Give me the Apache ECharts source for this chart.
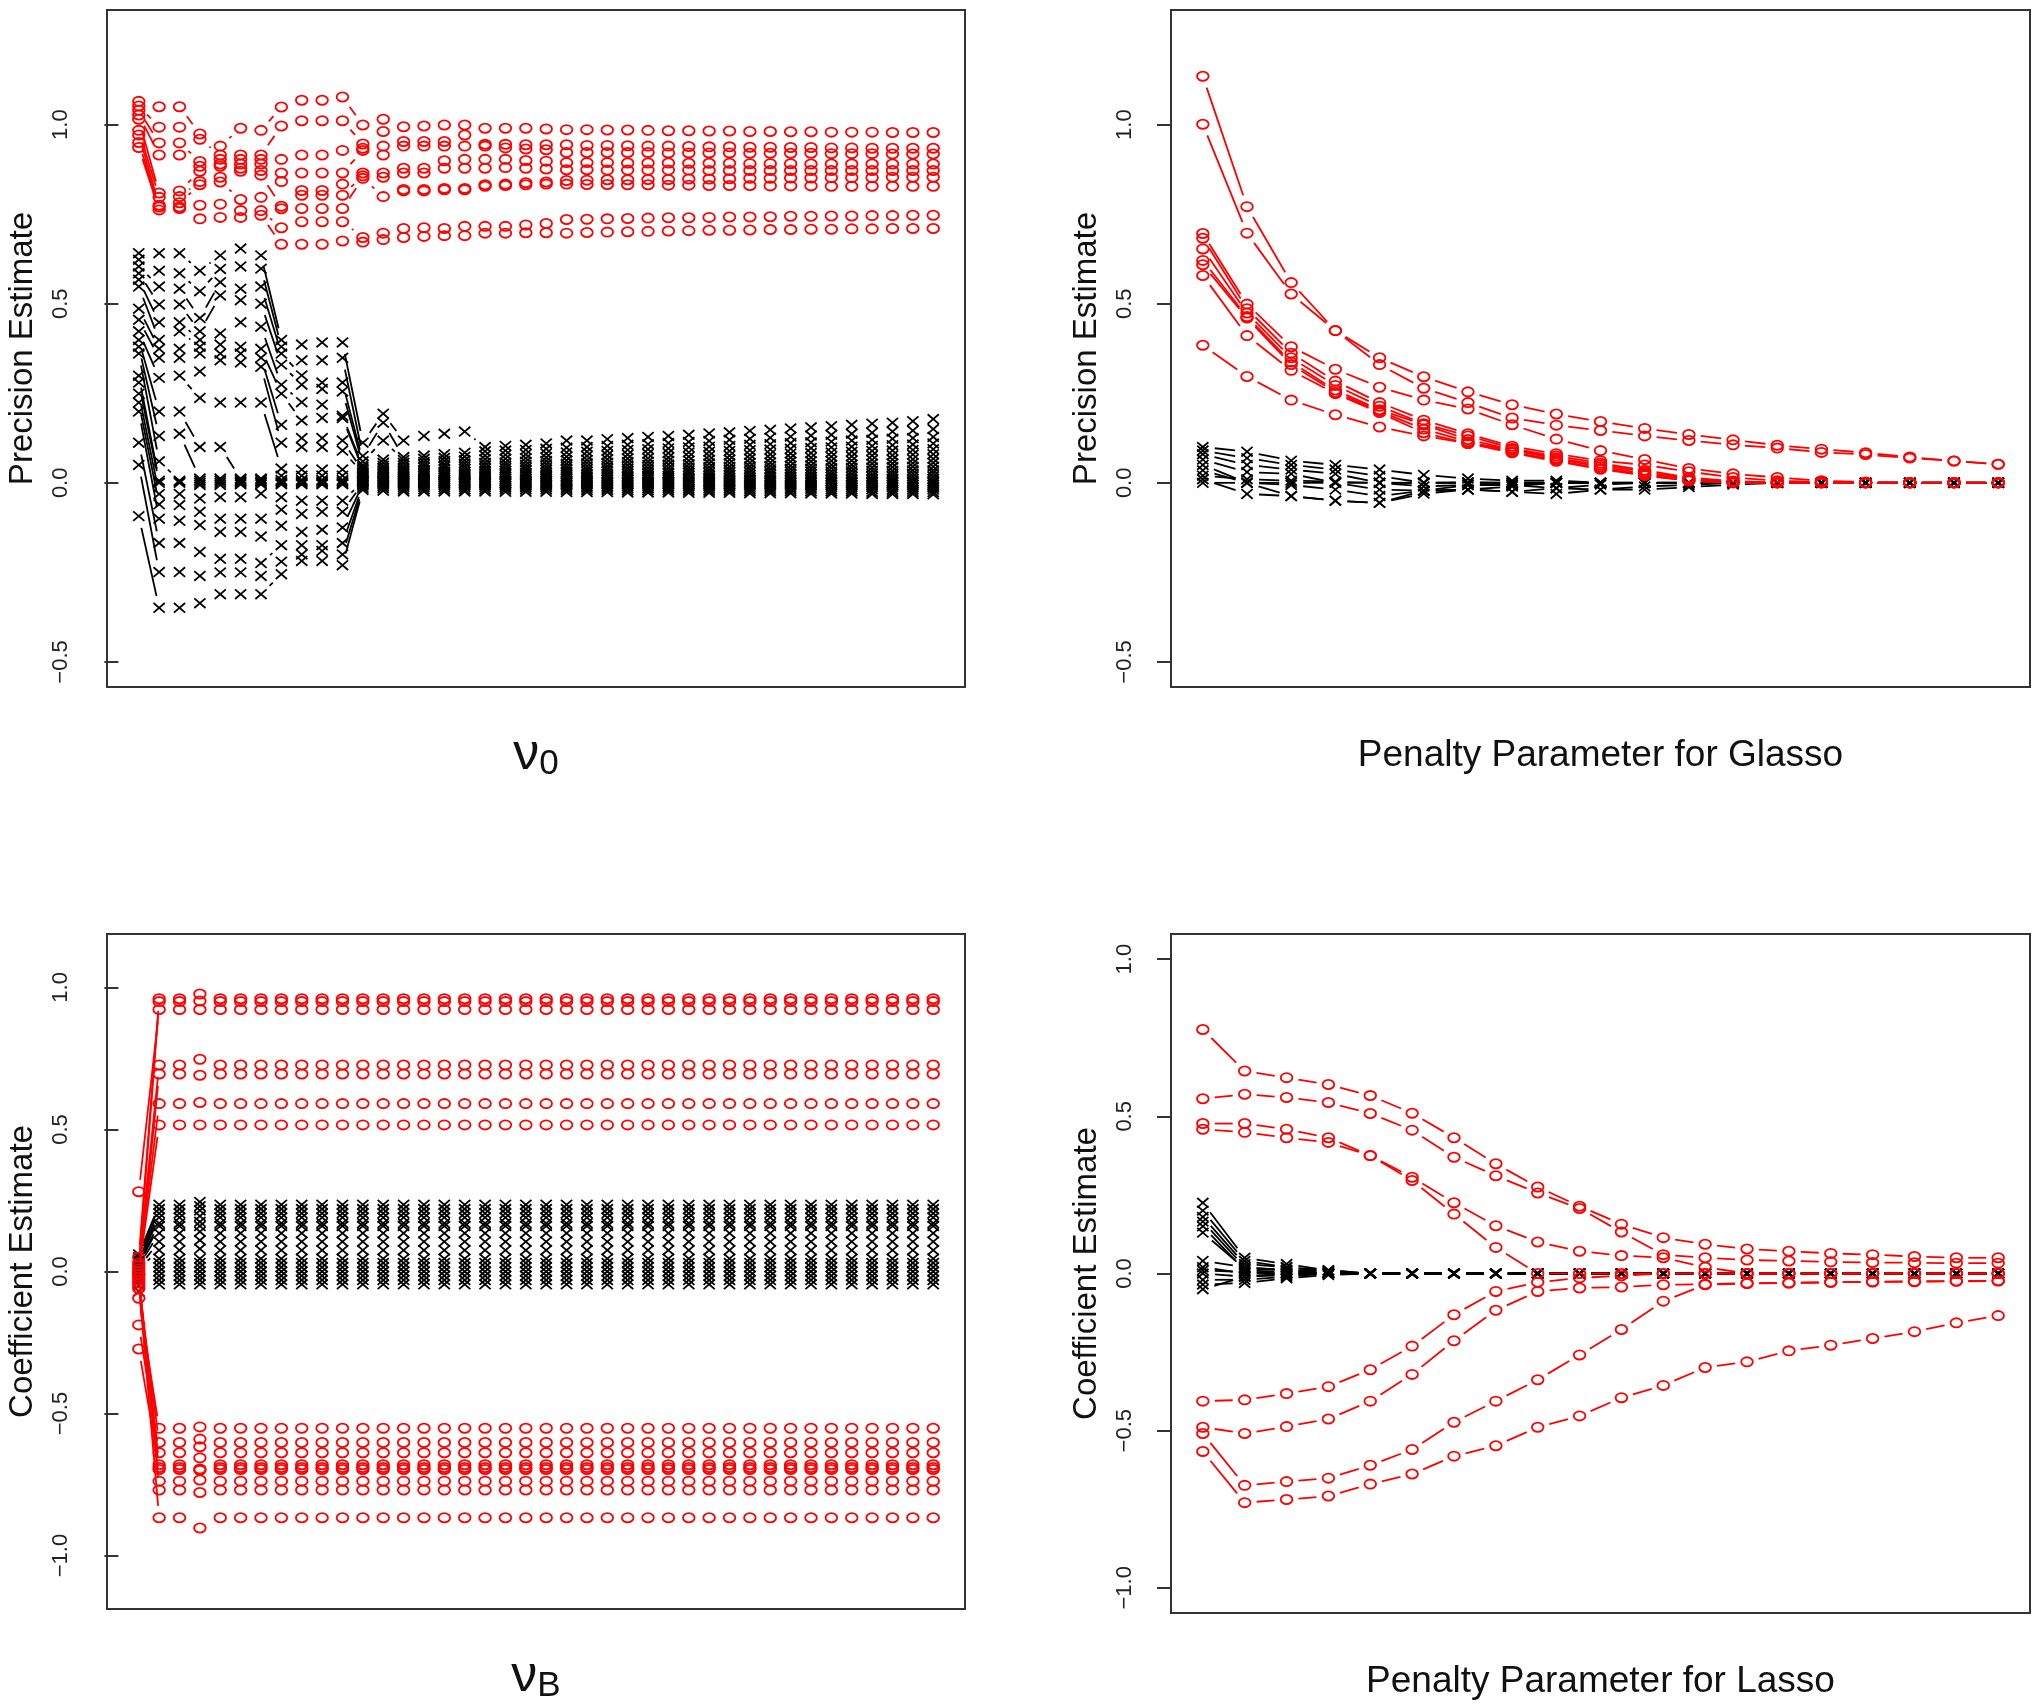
<!DOCTYPE html>
<html><head><meta charset="utf-8">
<script src="https://cdn.jsdelivr.net/npm/echarts@6/dist/echarts.min.js"></script>
<style>html,body{margin:0;padding:0;background:#fff}#c{width:2040px;height:1705px}</style>
</head><body><div id="c"></div>
<script>
// ---------- x positions ----------
const nuX = [1,2,3,4,5,6,7,8,9,10,11,12,13,14,15,16,17,18,19,20,21,22,23,24,25,26,27,28,29,30,31,32,33,34,35,36,37,38,39,40];
const glassoX = [1,2,3,4,5,6,7,8,9,10,11,12,13,14,15,16,17,18,19];
const lassoX = [1,2,3,4,5,6,7,8,9,10,11,12,13,14,15,16,17,18,19,20];
const yTicksTop = [-0.5, 0, 0.5, 1.0];
const yTicksBottom = [-1.0, -0.5, 0, 0.5, 1.0];

// ---------- Panel 1: precision estimates vs nu0 (values per column, sorted) ----------
const nu0RedCols = [
[1.065,1.052,1.040,1.027,1.015,0.984,0.971,0.950,0.936],
[1.050,0.993,0.949,0.915,0.809,0.797,0.775,0.770,0.762],
[1.050,0.993,0.949,0.915,0.815,0.799,0.782,0.770,0.766],
[0.974,0.959,0.897,0.884,0.870,0.841,0.832,0.775,0.737],
[0.940,0.915,0.903,0.890,0.884,0.853,0.840,0.778,0.741],
[0.990,0.915,0.903,0.890,0.878,0.870,0.791,0.760,0.741],
[0.984,0.915,0.903,0.890,0.872,0.859,0.797,0.760,0.747],
[1.049,0.996,0.903,0.865,0.841,0.772,0.765,0.712,0.666],
[1.068,1.011,0.915,0.865,0.816,0.803,0.766,0.729,0.666],
[1.068,1.011,0.915,0.865,0.816,0.803,0.766,0.729,0.666],
[1.077,1.011,0.928,0.865,0.834,0.803,0.766,0.729,0.675],
[0.999,0.946,0.934,0.928,0.865,0.857,0.850,0.685,0.672],
[1.015,0.981,0.940,0.915,0.865,0.853,0.799,0.697,0.679],
[0.994,0.953,0.940,0.878,0.865,0.819,0.815,0.710,0.685],
[0.996,0.953,0.940,0.878,0.865,0.819,0.815,0.712,0.688],
[0.999,0.953,0.940,0.899,0.878,0.822,0.818,0.710,0.690],
[0.999,0.971,0.940,0.903,0.878,0.822,0.818,0.716,0.690],
[0.990,0.945,0.940,0.903,0.878,0.832,0.828,0.716,0.697],
[0.990,0.945,0.935,0.903,0.880,0.834,0.830,0.716,0.697],
[0.990,0.944,0.932,0.900,0.878,0.838,0.832,0.720,0.698],
[0.988,0.944,0.930,0.898,0.876,0.840,0.834,0.724,0.698],
[0.986,0.944,0.922,0.894,0.874,0.844,0.834,0.735,0.697],
[0.986,0.942,0.922,0.894,0.874,0.845,0.833,0.736,0.699],
[0.985,0.942,0.922,0.894,0.873,0.846,0.833,0.737,0.700],
[0.985,0.941,0.922,0.893,0.873,0.846,0.832,0.738,0.701],
[0.984,0.940,0.922,0.893,0.873,0.847,0.832,0.739,0.702],
[0.983,0.940,0.921,0.893,0.873,0.847,0.831,0.740,0.703],
[0.983,0.939,0.921,0.892,0.873,0.848,0.831,0.740,0.704],
[0.982,0.938,0.921,0.892,0.872,0.848,0.830,0.741,0.705],
[0.982,0.938,0.921,0.892,0.872,0.849,0.830,0.742,0.705],
[0.981,0.937,0.920,0.891,0.872,0.850,0.830,0.742,0.706],
[0.981,0.937,0.920,0.891,0.872,0.850,0.829,0.743,0.707],
[0.980,0.936,0.920,0.891,0.872,0.851,0.829,0.744,0.707],
[0.980,0.936,0.920,0.890,0.872,0.851,0.829,0.744,0.708],
[0.979,0.935,0.919,0.890,0.872,0.852,0.828,0.745,0.708],
[0.979,0.935,0.919,0.890,0.872,0.852,0.828,0.745,0.709],
[0.979,0.934,0.919,0.890,0.872,0.852,0.828,0.746,0.709],
[0.978,0.934,0.918,0.890,0.872,0.853,0.828,0.746,0.710],
[0.978,0.934,0.918,0.890,0.872,0.853,0.828,0.747,0.710],
[0.978,0.934,0.918,0.890,0.872,0.853,0.828,0.747,0.710]
];
const nu0BlackCols = [
[0.641,0.623,0.604,0.585,0.567,0.548,0.486,0.455,0.423,0.399,0.380,0.361,0.299,0.280,0.249,0.224,0.199,0.112,0.050,-0.093],
[0.641,0.592,0.548,0.498,0.448,0.399,0.374,0.349,0.293,0.199,0.131,0.060,0.006,0.000,-0.031,-0.060,-0.100,-0.168,-0.249,-0.349],
[0.641,0.585,0.542,0.498,0.448,0.423,0.374,0.349,0.299,0.199,0.137,0.006,0.003,0.000,-0.031,-0.062,-0.106,-0.168,-0.249,-0.349],
[0.592,0.535,0.460,0.423,0.399,0.380,0.361,0.311,0.237,0.100,0.012,0.006,0.000,-0.006,-0.044,-0.081,-0.118,-0.193,-0.260,-0.336],
[0.635,0.597,0.560,0.523,0.417,0.386,0.361,0.342,0.224,0.100,0.012,0.006,0.000,-0.006,-0.040,-0.100,-0.137,-0.212,-0.250,-0.311],
[0.654,0.604,0.542,0.510,0.448,0.380,0.361,0.336,0.224,0.012,0.008,0.004,0.000,-0.004,-0.040,-0.100,-0.137,-0.212,-0.250,-0.311],
[0.635,0.598,0.548,0.500,0.436,0.374,0.349,0.324,0.224,0.012,0.008,0.004,0.000,-0.004,-0.030,-0.100,-0.150,-0.224,-0.260,-0.311],
[0.399,0.380,0.361,0.330,0.274,0.249,0.162,0.112,0.040,0.020,0.008,0.004,0.000,-0.004,-0.040,-0.075,-0.120,-0.174,-0.220,-0.255],
[0.386,0.342,0.300,0.274,0.225,0.174,0.125,0.100,0.037,0.020,0.008,0.004,0.000,-0.004,-0.050,-0.087,-0.137,-0.174,-0.200,-0.218],
[0.392,0.342,0.280,0.262,0.218,0.181,0.125,0.100,0.037,0.020,0.008,0.004,0.000,-0.004,-0.050,-0.081,-0.131,-0.174,-0.190,-0.218],
[0.392,0.349,0.280,0.255,0.187,0.181,0.118,0.090,0.037,0.020,0.008,0.004,0.000,-0.004,-0.050,-0.081,-0.125,-0.168,-0.200,-0.230],
[0.112,0.075,0.060,0.050,0.044,0.038,0.032,0.027,0.022,0.018,0.014,0.010,0.007,0.004,0.002,0.000,-0.004,-0.008,-0.014,-0.020],
[0.193,0.168,0.118,0.065,0.056,0.048,0.041,0.035,0.029,0.024,0.019,0.014,0.010,0.006,0.003,0.000,-0.004,-0.009,-0.015,-0.022],
[0.118,0.072,0.064,0.056,0.048,0.041,0.035,0.029,0.024,0.019,0.014,0.010,0.006,0.003,0.000,-0.003,-0.007,-0.012,-0.018,-0.024],
[0.131,0.076,0.067,0.058,0.050,0.043,0.036,0.030,0.025,0.020,0.015,0.010,0.006,0.003,0.000,-0.003,-0.007,-0.012,-0.018,-0.024],
[0.137,0.080,0.070,0.061,0.052,0.045,0.038,0.031,0.026,0.020,0.015,0.010,0.006,0.003,0.000,-0.003,-0.007,-0.012,-0.018,-0.024],
[0.143,0.084,0.073,0.063,0.054,0.046,0.039,0.032,0.026,0.021,0.016,0.011,0.006,0.003,0.000,-0.003,-0.007,-0.012,-0.018,-0.024],
[0.100,0.088,0.076,0.066,0.056,0.048,0.040,0.033,0.027,0.021,0.016,0.011,0.006,0.003,0.000,-0.003,-0.007,-0.012,-0.018,-0.024],
[0.103,0.090,0.078,0.067,0.057,0.049,0.041,0.034,0.028,0.022,0.016,0.011,0.006,0.003,0.000,-0.003,-0.008,-0.013,-0.019,-0.025],
[0.106,0.092,0.080,0.069,0.059,0.050,0.042,0.035,0.028,0.022,0.017,0.012,0.007,0.003,0.000,-0.003,-0.008,-0.013,-0.019,-0.025],
[0.110,0.095,0.082,0.071,0.061,0.052,0.043,0.036,0.029,0.023,0.017,0.012,0.007,0.003,0.000,-0.004,-0.008,-0.013,-0.019,-0.025],
[0.118,0.098,0.085,0.073,0.063,0.053,0.045,0.037,0.030,0.024,0.018,0.012,0.007,0.003,0.000,-0.004,-0.008,-0.014,-0.020,-0.026],
[0.118,0.100,0.087,0.075,0.064,0.055,0.046,0.038,0.031,0.024,0.018,0.013,0.007,0.003,0.000,-0.004,-0.009,-0.014,-0.020,-0.026],
[0.122,0.103,0.089,0.077,0.066,0.056,0.047,0.039,0.032,0.025,0.019,0.013,0.008,0.003,0.000,-0.004,-0.009,-0.014,-0.020,-0.026],
[0.125,0.106,0.092,0.079,0.068,0.058,0.049,0.040,0.033,0.026,0.019,0.013,0.008,0.003,0.000,-0.004,-0.009,-0.015,-0.021,-0.027],
[0.128,0.108,0.094,0.081,0.069,0.059,0.050,0.041,0.033,0.026,0.020,0.014,0.008,0.003,0.000,-0.004,-0.009,-0.015,-0.021,-0.027],
[0.131,0.111,0.096,0.083,0.071,0.061,0.051,0.042,0.034,0.027,0.020,0.014,0.008,0.003,0.000,-0.004,-0.010,-0.015,-0.021,-0.027],
[0.134,0.114,0.099,0.085,0.073,0.062,0.052,0.043,0.035,0.028,0.021,0.014,0.008,0.004,0.000,-0.005,-0.010,-0.016,-0.022,-0.028],
[0.138,0.117,0.101,0.087,0.075,0.064,0.054,0.044,0.036,0.028,0.021,0.015,0.009,0.004,0.000,-0.005,-0.010,-0.016,-0.022,-0.028],
[0.141,0.120,0.103,0.089,0.076,0.065,0.055,0.045,0.037,0.029,0.022,0.015,0.009,0.004,0.000,-0.005,-0.010,-0.016,-0.022,-0.028],
[0.145,0.123,0.106,0.091,0.078,0.067,0.056,0.046,0.038,0.030,0.022,0.015,0.009,0.004,0.000,-0.005,-0.011,-0.017,-0.023,-0.029],
[0.148,0.126,0.108,0.093,0.080,0.068,0.057,0.047,0.038,0.030,0.023,0.016,0.009,0.004,0.000,-0.005,-0.011,-0.017,-0.023,-0.029],
[0.152,0.129,0.111,0.095,0.082,0.070,0.059,0.048,0.039,0.031,0.023,0.016,0.010,0.004,0.000,-0.005,-0.011,-0.017,-0.023,-0.029],
[0.155,0.132,0.113,0.097,0.083,0.071,0.060,0.049,0.040,0.032,0.024,0.016,0.010,0.004,0.000,-0.005,-0.011,-0.017,-0.024,-0.030],
[0.158,0.134,0.115,0.099,0.085,0.073,0.061,0.050,0.041,0.032,0.024,0.017,0.010,0.004,0.000,-0.006,-0.012,-0.018,-0.024,-0.030],
[0.162,0.137,0.118,0.101,0.087,0.074,0.062,0.051,0.042,0.033,0.025,0.017,0.010,0.004,0.000,-0.006,-0.012,-0.018,-0.024,-0.030],
[0.165,0.140,0.120,0.103,0.089,0.076,0.064,0.053,0.043,0.034,0.025,0.017,0.010,0.004,0.000,-0.006,-0.012,-0.018,-0.025,-0.031],
[0.168,0.143,0.123,0.105,0.090,0.077,0.065,0.054,0.044,0.034,0.026,0.018,0.011,0.005,0.000,-0.006,-0.012,-0.019,-0.025,-0.031],
[0.172,0.146,0.125,0.107,0.092,0.079,0.066,0.055,0.045,0.035,0.026,0.018,0.011,0.005,0.000,-0.006,-0.013,-0.019,-0.025,-0.031],
[0.178,0.150,0.128,0.110,0.094,0.080,0.067,0.056,0.045,0.035,0.027,0.018,0.011,0.005,0.000,-0.006,-0.013,-0.019,-0.026,-0.032]
];

// ---------- Panel 2: Glasso precision path ----------
const glRed1 = [1.135,0.771,0.559,0.425,0.349,0.296,0.254,0.218,0.192,0.171,0.152,0.135,0.120,0.105,0.094,0.084,0.072,0.061,0.052];
const glRed2 = [1.001,0.697,0.527,0.425,0.330,0.264,0.224,0.181,0.161,0.146,0.131,0.118,0.106,0.097,0.085,0.079,0.069,0.061,0.052];
const glRed3 = [0.696,0.499,0.380,0.317,0.267,0.231,0.206,0.162,0.122,0.090,0.065,0.040,0.025,0.015,0.006,0.002,0,0,0];
const glRed4 = [0.683,0.486,0.362,0.284,0.224,0.175,0.137,0.102,0.081,0.062,0.050,0.031,0.015,0.006,0.002,0,0,0,0];
const glRed5 = [0.653,0.474,0.349,0.272,0.214,0.165,0.131,0.096,0.069,0.050,0.031,0.012,0.002,0,0,0,0,0,0];
const glRed6 = [0.621,0.464,0.337,0.259,0.204,0.162,0.121,0.092,0.066,0.045,0.026,0.009,0.002,0,0,0,0,0,0];
const glRed7 = [0.609,0.460,0.330,0.253,0.200,0.150,0.115,0.087,0.062,0.040,0.022,0.006,0,0,0,0,0,0,0];
const glRed8 = [0.579,0.411,0.314,0.249,0.196,0.140,0.110,0.084,0.060,0.038,0.020,0.006,0,0,0,0,0,0,0];
const glRed9 = [0.384,0.297,0.231,0.190,0.156,0.131,0.110,0.095,0.075,0.055,0.035,0.015,0.005,0,0,0,0,0,0];
const glBlk1 = [0.100,0.087,0.062,0.050,0.037,0.022,0.012,0.006,0.006,0,0,0,0,0,0,0,0,0,0];
const glBlk2 = [0.090,0.069,0.050,0.037,0.019,0.000,0.002,0,0,0,0,0,0,0,0,0,0,0,0];
const glBlk3 = [0.080,0.050,0.037,0.025,0.000,-0.010,-0.006,-0.006,0,0,0,0,0,0,0,0,0,0,0];
const glBlk4 = [0.065,0.030,0.025,0.000,-0.019,-0.022,-0.019,-0.025,-0.015,-0.019,-0.019,-0.012,-0.005,0,0,0,0,0,0];
const glBlk5 = [0.050,0.000,-0.006,-0.019,-0.037,-0.022,-0.019,-0.025,-0.031,-0.019,-0.010,-0.006,0,0,0,0,0,0,0];
const glBlk6 = [0.035,0.000,-0.037,-0.050,-0.056,-0.022,-0.006,-0.006,-0.015,-0.005,0,0,0,0,0,0,0,0,0];
const glBlk7 = [0.020,0.010,0.006,0.003,0,0,0,0,0,0,0,0,0,0,0,0,0,0,0];
const glBlk8 = [0.010,-0.031,-0.037,-0.050,-0.056,-0.030,-0.019,-0.010,0,0,0,0,0,0,0,0,0,0,0];
const glBlk9 = [0.000,0,0,0,0,0,0,0,0,0,0,0,0,0,0,0,0,0,0];

// ---------- Panel 3: coefficient estimates vs nuB ----------
const vbRed1 = [0.05,0.96,0.96,0.977, 0.96,0.96,0.96,0.96,0.96,0.96, 0.96,0.96,0.96,0.96,0.96,0.96, 0.96,0.96,0.96,0.96,0.96,0.96, 0.96,0.96,0.96,0.96,0.96,0.96, 0.96,0.96,0.96,0.96,0.96,0.96, 0.96,0.96,0.96,0.96,0.96,0.96];
const vbRed2 = [0.02,0.95,0.95,0.952, 0.95,0.95,0.95,0.95,0.95,0.95, 0.95,0.95,0.95,0.95,0.95,0.95, 0.95,0.95,0.95,0.95,0.95,0.95, 0.95,0.95,0.95,0.95,0.95,0.95, 0.95,0.95,0.95,0.95,0.95,0.95, 0.95,0.95,0.95,0.95,0.95,0.95];
const vbRed3 = [0.281,0.922,0.922,0.922, 0.922,0.922,0.922,0.922,0.922,0.922, 0.922,0.922,0.922,0.922,0.922,0.922, 0.922,0.922,0.922,0.922,0.922,0.922, 0.922,0.922,0.922,0.922,0.922,0.922, 0.922,0.922,0.922,0.922,0.922,0.922, 0.922,0.922,0.922,0.922,0.922,0.922];
const vbRed4 = [0.03,0.727,0.727,0.747, 0.727,0.727,0.727,0.727,0.727,0.727, 0.727,0.727,0.727,0.727,0.727,0.727, 0.727,0.727,0.727,0.727,0.727,0.727, 0.727,0.727,0.727,0.727,0.727,0.727, 0.727,0.727,0.727,0.727,0.727,0.727, 0.727,0.727,0.727,0.727,0.727,0.727];
const vbRed5 = [-0.01,0.695,0.695,0.691, 0.695,0.695,0.695,0.695,0.695,0.695, 0.695,0.695,0.695,0.695,0.695,0.695, 0.695,0.695,0.695,0.695,0.695,0.695, 0.695,0.695,0.695,0.695,0.695,0.695, 0.695,0.695,0.695,0.695,0.695,0.695, 0.695,0.695,0.695,0.695,0.695,0.695];
const vbRed6 = [0.01,0.591,0.591,0.595, 0.591,0.591,0.591,0.591,0.591,0.591, 0.591,0.591,0.591,0.591,0.591,0.591, 0.591,0.591,0.591,0.591,0.591,0.591, 0.591,0.591,0.591,0.591,0.591,0.591, 0.591,0.591,0.591,0.591,0.591,0.591, 0.591,0.591,0.591,0.591,0.591,0.591];
const vbRed7 = [0.0,0.516,0.516,0.516, 0.516,0.516,0.516,0.516,0.516,0.516, 0.516,0.516,0.516,0.516,0.516,0.516, 0.516,0.516,0.516,0.516,0.516,0.516, 0.516,0.516,0.516,0.516,0.516,0.516, 0.516,0.516,0.516,0.516,0.516,0.516, 0.516,0.516,0.516,0.516,0.516,0.516];
const vbRed8 = [-0.094,-0.552,-0.552,-0.547, -0.552,-0.552,-0.552,-0.552,-0.552,-0.552, -0.552,-0.552,-0.552,-0.552,-0.552,-0.552, -0.552,-0.552,-0.552,-0.552,-0.552,-0.552, -0.552,-0.552,-0.552,-0.552,-0.552,-0.552, -0.552,-0.552,-0.552,-0.552,-0.552,-0.552, -0.552,-0.552,-0.552,-0.552,-0.552,-0.552];
const vbRed9 = [-0.05,-0.602,-0.602,-0.590, -0.602,-0.602,-0.602,-0.602,-0.602,-0.602, -0.602,-0.602,-0.602,-0.602,-0.602,-0.602, -0.602,-0.602,-0.602,-0.602,-0.602,-0.602, -0.602,-0.602,-0.602,-0.602,-0.602,-0.602, -0.602,-0.602,-0.602,-0.602,-0.602,-0.602, -0.602,-0.602,-0.602,-0.602,-0.602,-0.602];
const vbRed10 = [-0.188,-0.638,-0.638,-0.617, -0.638,-0.638,-0.638,-0.638,-0.638,-0.638, -0.638,-0.638,-0.638,-0.638,-0.638,-0.638, -0.638,-0.638,-0.638,-0.638,-0.638,-0.638, -0.638,-0.638,-0.638,-0.638,-0.638,-0.638, -0.638,-0.638,-0.638,-0.638,-0.638,-0.638, -0.638,-0.638,-0.638,-0.638,-0.638,-0.638];
const vbRed11 = [-0.02,-0.68,-0.68,-0.656, -0.68,-0.68,-0.68,-0.68,-0.68,-0.68, -0.68,-0.68,-0.68,-0.68,-0.68,-0.68, -0.68,-0.68,-0.68,-0.68,-0.68,-0.68, -0.68,-0.68,-0.68,-0.68,-0.68,-0.68, -0.68,-0.68,-0.68,-0.68,-0.68,-0.68, -0.68,-0.68,-0.68,-0.68,-0.68,-0.68];
const vbRed12 = [-0.273,-0.69,-0.69,-0.695, -0.69,-0.69,-0.69,-0.69,-0.69,-0.69, -0.69,-0.69,-0.69,-0.69,-0.69,-0.69, -0.69,-0.69,-0.69,-0.69,-0.69,-0.69, -0.69,-0.69,-0.69,-0.69,-0.69,-0.69, -0.69,-0.69,-0.69,-0.69,-0.69,-0.69, -0.69,-0.69,-0.69,-0.69,-0.69,-0.69];
const vbRed13 = [-0.03,-0.697,-0.697,-0.700, -0.697,-0.697,-0.697,-0.697,-0.697,-0.697, -0.697,-0.697,-0.697,-0.697,-0.697,-0.697, -0.697,-0.697,-0.697,-0.697,-0.697,-0.697, -0.697,-0.697,-0.697,-0.697,-0.697,-0.697, -0.697,-0.697,-0.697,-0.697,-0.697,-0.697, -0.697,-0.697,-0.697,-0.697,-0.697,-0.697];
const vbRed14 = [-0.06,-0.738,-0.738,-0.734, -0.738,-0.738,-0.738,-0.738,-0.738,-0.738, -0.738,-0.738,-0.738,-0.738,-0.738,-0.738, -0.738,-0.738,-0.738,-0.738,-0.738,-0.738, -0.738,-0.738,-0.738,-0.738,-0.738,-0.738, -0.738,-0.738,-0.738,-0.738,-0.738,-0.738, -0.738,-0.738,-0.738,-0.738,-0.738,-0.738];
const vbRed15 = [-0.01,-0.769,-0.769,-0.778, -0.769,-0.769,-0.769,-0.769,-0.769,-0.769, -0.769,-0.769,-0.769,-0.769,-0.769,-0.769, -0.769,-0.769,-0.769,-0.769,-0.769,-0.769, -0.769,-0.769,-0.769,-0.769,-0.769,-0.769, -0.769,-0.769,-0.769,-0.769,-0.769,-0.769, -0.769,-0.769,-0.769,-0.769,-0.769,-0.769];
const vbRed16 = [-0.04,-0.867,-0.867,-0.903, -0.867,-0.867,-0.867,-0.867,-0.867,-0.867, -0.867,-0.867,-0.867,-0.867,-0.867,-0.867, -0.867,-0.867,-0.867,-0.867,-0.867,-0.867, -0.867,-0.867,-0.867,-0.867,-0.867,-0.867, -0.867,-0.867,-0.867,-0.867,-0.867,-0.867, -0.867,-0.867,-0.867,-0.867,-0.867,-0.867];
const vbBlk1 = [0.06,0.235,0.235,0.245, 0.235,0.235,0.235,0.235,0.235,0.235, 0.235,0.235,0.235,0.235,0.235,0.235, 0.235,0.235,0.235,0.235,0.235,0.235, 0.235,0.235,0.235,0.235,0.235,0.235, 0.235,0.235,0.235,0.235,0.235,0.235, 0.235,0.235,0.235,0.235,0.235,0.235];
const vbBlk2 = [0.05,0.22,0.22,0.23, 0.22,0.22,0.22,0.22,0.22,0.22, 0.22,0.22,0.22,0.22,0.22,0.22, 0.22,0.22,0.22,0.22,0.22,0.22, 0.22,0.22,0.22,0.22,0.22,0.22, 0.22,0.22,0.22,0.22,0.22,0.22, 0.22,0.22,0.22,0.22,0.22,0.22];
const vbBlk3 = [0.04,0.205,0.205,0.215, 0.205,0.205,0.205,0.205,0.205,0.205, 0.205,0.205,0.205,0.205,0.205,0.205, 0.205,0.205,0.205,0.205,0.205,0.205, 0.205,0.205,0.205,0.205,0.205,0.205, 0.205,0.205,0.205,0.205,0.205,0.205, 0.205,0.205,0.205,0.205,0.205,0.205];
const vbBlk4 = [0.035,0.19,0.19,0.195, 0.19,0.19,0.19,0.19,0.19,0.19, 0.19,0.19,0.19,0.19,0.19,0.19, 0.19,0.19,0.19,0.19,0.19,0.19, 0.19,0.19,0.19,0.19,0.19,0.19, 0.19,0.19,0.19,0.19,0.19,0.19, 0.19,0.19,0.19,0.19,0.19,0.19];
const vbBlk5 = [0.03,0.17,0.17,0.175, 0.17,0.17,0.17,0.17,0.17,0.17, 0.17,0.17,0.17,0.17,0.17,0.17, 0.17,0.17,0.17,0.17,0.17,0.17, 0.17,0.17,0.17,0.17,0.17,0.17, 0.17,0.17,0.17,0.17,0.17,0.17, 0.17,0.17,0.17,0.17,0.17,0.17];
const vbBlk6 = [0.025,0.16,0.16,0.16, 0.16,0.16,0.16,0.16,0.16,0.16, 0.16,0.16,0.16,0.16,0.16,0.16, 0.16,0.16,0.16,0.16,0.16,0.16, 0.16,0.16,0.16,0.16,0.16,0.16, 0.16,0.16,0.16,0.16,0.16,0.16, 0.16,0.16,0.16,0.16,0.16,0.16];
const vbBlk7 = [0.02,0.135,0.135,0.14, 0.135,0.135,0.135,0.135,0.135,0.135, 0.135,0.135,0.135,0.135,0.135,0.135, 0.135,0.135,0.135,0.135,0.135,0.135, 0.135,0.135,0.135,0.135,0.135,0.135, 0.135,0.135,0.135,0.135,0.135,0.135, 0.135,0.135,0.135,0.135,0.135,0.135];
const vbBlk8 = [0.015,0.105,0.105,0.11, 0.105,0.105,0.105,0.105,0.105,0.105, 0.105,0.105,0.105,0.105,0.105,0.105, 0.105,0.105,0.105,0.105,0.105,0.105, 0.105,0.105,0.105,0.105,0.105,0.105, 0.105,0.105,0.105,0.105,0.105,0.105, 0.105,0.105,0.105,0.105,0.105,0.105];
const vbBlk9 = [0.01,0.075,0.075,0.08, 0.075,0.075,0.075,0.075,0.075,0.075, 0.075,0.075,0.075,0.075,0.075,0.075, 0.075,0.075,0.075,0.075,0.075,0.075, 0.075,0.075,0.075,0.075,0.075,0.075, 0.075,0.075,0.075,0.075,0.075,0.075, 0.075,0.075,0.075,0.075,0.075,0.075];
const vbBlk10 = [0.005,0.045,0.045,0.045, 0.045,0.045,0.045,0.045,0.045,0.045, 0.045,0.045,0.045,0.045,0.045,0.045, 0.045,0.045,0.045,0.045,0.045,0.045, 0.045,0.045,0.045,0.045,0.045,0.045, 0.045,0.045,0.045,0.045,0.045,0.045, 0.045,0.045,0.045,0.045,0.045,0.045];
const vbBlk11 = [0.0,0.03,0.03,0.03, 0.03,0.03,0.03,0.03,0.03,0.03, 0.03,0.03,0.03,0.03,0.03,0.03, 0.03,0.03,0.03,0.03,0.03,0.03, 0.03,0.03,0.03,0.03,0.03,0.03, 0.03,0.03,0.03,0.03,0.03,0.03, 0.03,0.03,0.03,0.03,0.03,0.03];
const vbBlk12 = [-0.01,0.015,0.015,0.015, 0.015,0.015,0.015,0.015,0.015,0.015, 0.015,0.015,0.015,0.015,0.015,0.015, 0.015,0.015,0.015,0.015,0.015,0.015, 0.015,0.015,0.015,0.015,0.015,0.015, 0.015,0.015,0.015,0.015,0.015,0.015, 0.015,0.015,0.015,0.015,0.015,0.015];
const vbBlk13 = [-0.02,0.0,0.0,0.0, 0.0,0.0,0.0,0.0,0.0,0.0, 0.0,0.0,0.0,0.0,0.0,0.0, 0.0,0.0,0.0,0.0,0.0,0.0, 0.0,0.0,0.0,0.0,0.0,0.0, 0.0,0.0,0.0,0.0,0.0,0.0, 0.0,0.0,0.0,0.0,0.0,0.0];
const vbBlk14 = [-0.035,-0.015,-0.015,-0.015, -0.015,-0.015,-0.015,-0.015,-0.015,-0.015, -0.015,-0.015,-0.015,-0.015,-0.015,-0.015, -0.015,-0.015,-0.015,-0.015,-0.015,-0.015, -0.015,-0.015,-0.015,-0.015,-0.015,-0.015, -0.015,-0.015,-0.015,-0.015,-0.015,-0.015, -0.015,-0.015,-0.015,-0.015,-0.015,-0.015];
const vbBlk15 = [-0.05,-0.03,-0.03,-0.03, -0.03,-0.03,-0.03,-0.03,-0.03,-0.03, -0.03,-0.03,-0.03,-0.03,-0.03,-0.03, -0.03,-0.03,-0.03,-0.03,-0.03,-0.03, -0.03,-0.03,-0.03,-0.03,-0.03,-0.03, -0.03,-0.03,-0.03,-0.03,-0.03,-0.03, -0.03,-0.03,-0.03,-0.03,-0.03,-0.03];
const vbBlk16 = [-0.07,-0.045,-0.045,-0.045, -0.045,-0.045,-0.045,-0.045,-0.045,-0.045, -0.045,-0.045,-0.045,-0.045,-0.045,-0.045, -0.045,-0.045,-0.045,-0.045,-0.045,-0.045, -0.045,-0.045,-0.045,-0.045,-0.045,-0.045, -0.045,-0.045,-0.045,-0.045,-0.045,-0.045, -0.045,-0.045,-0.045,-0.045,-0.045,-0.045];

// ---------- Panel 4: Lasso coefficient path ----------
const laRed1 = [0.776,0.644,0.623,0.601,0.566,0.510,0.432,0.349,0.275,0.214,0.157,0.114,0.093,0.078,0.071,0.064,0.060,0.054,0.050,0.050];
const laRed2 = [0.556,0.570,0.560,0.544,0.509,0.456,0.370,0.311,0.256,0.207,0.132,0.060,0.050,0.043,0.040,0.037,0.035,0.034,0.033,0.033];
const laRed3 = [0.477,0.477,0.459,0.432,0.375,0.306,0.225,0.152,0.100,0.071,0.057,0.050,0.020,0,0,0,0,0,0,0];
const laRed4 = [0.459,0.449,0.432,0.417,0.375,0.296,0.189,0.083,0,0,0,0,0,0,0,0,0,0,0,0];
const laRed5 = [-0.406,-0.402,-0.382,-0.360,-0.306,-0.231,-0.131,-0.057,-0.028,-0.014,-0.007,0,0,0,0,0,0,0,0,0];
const laRed6 = [-0.489,-0.509,-0.487,-0.463,-0.406,-0.321,-0.214,-0.117,-0.057,-0.046,-0.043,-0.036,-0.034,-0.031,-0.030,-0.028,-0.026,-0.025,-0.024,-0.023];
const laRed7 = [-0.509,-0.674,-0.662,-0.651,-0.610,-0.560,-0.473,-0.406,-0.338,-0.259,-0.178,-0.088,-0.036,-0.032,-0.030,-0.028,-0.027,-0.026,-0.025,-0.024];
const laRed8 = [-0.566,-0.729,-0.719,-0.708,-0.670,-0.638,-0.581,-0.548,-0.489,-0.453,-0.395,-0.356,-0.299,-0.281,-0.246,-0.228,-0.207,-0.185,-0.157,-0.134];
const laBlk1 = [0.225,0.050,0.030,0.010,0,0,0,0,0,0,0,0,0,0,0,0,0,0,0,0];
const laBlk2 = [0.200,0.040,0.020,0.010,0,0,0,0,0,0,0,0,0,0,0,0,0,0,0,0];
const laBlk3 = [0.180,0.030,0.020,0.005,0,0,0,0,0,0,0,0,0,0,0,0,0,0,0,0];
const laBlk4 = [0.165,0.020,0.010,0,0,0,0,0,0,0,0,0,0,0,0,0,0,0,0,0];
const laBlk5 = [0.150,0.010,0.005,0,0,0,0,0,0,0,0,0,0,0,0,0,0,0,0,0];
const laBlk6 = [0.130,0.015,0.012,0.004,0,0,0,0,0,0,0,0,0,0,0,0,0,0,0,0];
const laBlk7 = [0.040,0.020,0.010,0,0,0,0,0,0,0,0,0,0,0,0,0,0,0,0,0];
const laBlk8 = [0.020,0.000,0,0,0,0,0,0,0,0,0,0,0,0,0,0,0,0,0,0];
const laBlk9 = [0.010,0.005,0,0,0,0,0,0,0,0,0,0,0,0,0,0,0,0,0,0];
const laBlk10 = [0.000,-0.010,-0.005,0,0,0,0,0,0,0,0,0,0,0,0,0,0,0,0,0];
const laBlk11 = [-0.020,-0.020,-0.010,0,0,0,0,0,0,0,0,0,0,0,0,0,0,0,0,0];
const laBlk12 = [-0.035,-0.030,-0.015,-0.005,0,0,0,0,0,0,0,0,0,0,0,0,0,0,0,0];
const laBlk13 = [-0.050,-0.010,0,0,0,0,0,0,0,0,0,0,0,0,0,0,0,0,0,0];

// ---------- drawing ----------
const RED = '#ff0000', BLACK = '#000000';
const GAP = 12, LW = 1.8;
const FONT = "'Liberation Sans', Arial, sans-serif";

function columnsToSeries(cols) {
  const n = cols[0].length, out = [];
  for (let i = 0; i < n; i++) out.push(cols.map(c => c[i]));
  return out;
}

// R type="b": points joined by lines that stop short of each point
function typeB(gi, xs, ys, color, pch) {
  const n = ys.length;
  const data = ys.map((y, i) => [xs[i], y, i < n - 1 ? xs[i + 1] : xs[i], i < n - 1 ? ys[i + 1] : y]);
  return {
    type: 'custom', xAxisIndex: gi, yAxisIndex: gi, data: data,
    encode: { x: [0, 2], y: [1, 3] }, silent: true, animation: false,
    z: color === BLACK ? 2 : 3,
    renderItem: function (params, api) {
      const p0 = api.coord([api.value(0), api.value(1)]);
      const p1 = api.coord([api.value(2), api.value(3)]);
      const ch = [];
      const dx = p1[0] - p0[0], dy = p1[1] - p0[1], d = Math.sqrt(dx * dx + dy * dy);
      if (d > 2 * GAP + 1) {
        const ux = dx / d, uy = dy / d;
        ch.push({ type: 'line', shape: { x1: p0[0] + ux * GAP, y1: p0[1] + uy * GAP, x2: p1[0] - ux * GAP, y2: p1[1] - uy * GAP },
          style: { stroke: color, lineWidth: LW } });
      }
      if (pch === 1) {
        ch.push({ type: 'ellipse', shape: { cx: p0[0], cy: p0[1], rx: 5.8, ry: 4.6 }, style: { fill: 'none', stroke: color, lineWidth: LW } });
      } else {
        const a = 5.6, b = 4.8;
        ch.push({ type: 'line', shape: { x1: p0[0] - a, y1: p0[1] - b, x2: p0[0] + a, y2: p0[1] + b }, style: { stroke: color, lineWidth: LW } });
        ch.push({ type: 'line', shape: { x1: p0[0] - a, y1: p0[1] + b, x2: p0[0] + a, y2: p0[1] - b }, style: { stroke: color, lineWidth: LW } });
      }
      return { type: 'group', children: ch };
    }
  };
}

const series = [];
columnsToSeries(nu0BlackCols).forEach(s => series.push(typeB(0, nuX, s, BLACK, 4)));
columnsToSeries(nu0RedCols).forEach(s => series.push(typeB(0, nuX, s, RED, 1)));
[glBlk1,glBlk2,glBlk3,glBlk4,glBlk5,glBlk6,glBlk7,glBlk8,glBlk9].forEach(s => series.push(typeB(1, glassoX, s, BLACK, 4)));
[glRed1,glRed2,glRed3,glRed4,glRed5,glRed6,glRed7,glRed8,glRed9].forEach(s => series.push(typeB(1, glassoX, s, RED, 1)));
[vbBlk1,vbBlk2,vbBlk3,vbBlk4,vbBlk5,vbBlk6,vbBlk7,vbBlk8,vbBlk9,vbBlk10,vbBlk11,vbBlk12,vbBlk13,vbBlk14,vbBlk15,vbBlk16].forEach(s => series.push(typeB(2, nuX, s, BLACK, 4)));
[vbRed1,vbRed2,vbRed3,vbRed4,vbRed5,vbRed6,vbRed7,vbRed8,vbRed9,vbRed10,vbRed11,vbRed12,vbRed13,vbRed14,vbRed15,vbRed16].forEach(s => series.push(typeB(2, nuX, s, RED, 1)));
[laBlk1,laBlk2,laBlk3,laBlk4,laBlk5,laBlk6,laBlk7,laBlk8,laBlk9,laBlk10,laBlk11,laBlk12,laBlk13].forEach(s => series.push(typeB(3, lassoX, s, BLACK, 4)));
[laRed1,laRed2,laRed3,laRed4,laRed5,laRed6,laRed7,laRed8].forEach(s => series.push(typeB(3, lassoX, s, RED, 1)));

const fmt = v => (v < 0 ? '\u2212' : '') + Math.abs(v).toFixed(1);
function yAxis(gi, min, max, ticks, name) {
  return {
    gridIndex: gi, type: 'value', min: min, max: max,
    axisLine: { show: false }, splitLine: { show: false },
    axisTick: { show: true, length: 14, customValues: ticks, lineStyle: { color: '#333', width: 2 } },
    axisLabel: { show: true, customValues: ticks, rotate: 90, margin: 35, fontSize: 22, color: '#222', fontFamily: FONT, formatter: fmt },
    name: name, nameLocation: 'middle', nameRotate: 90, nameGap: 68,
    nameTextStyle: { fontSize: 33, color: '#111', fontFamily: FONT }
  };
}
function xAxis(gi, min, max, name, rich, gap) {
  return {
    gridIndex: gi, type: 'value', min: min, max: max,
    axisLine: { show: false }, axisTick: { show: false }, axisLabel: { show: false }, splitLine: { show: false },
    name: name, nameLocation: 'middle', nameGap: gap,
    nameTextStyle: Object.assign({ fontSize: 37, color: '#111', fontFamily: FONT }, rich ? { rich: rich } : {})
  };
}
const nuRich = () => ({
  a: { fontSize: 52, fontFamily: FONT, color: '#111' },
  b: { fontSize: 35, fontFamily: FONT, color: '#111', padding: [20, 0, 0, 0] }
});

const gridBase = { show: true, borderColor: '#333', borderWidth: 2, containLabel: false };
const option = {
  backgroundColor: '#ffffff',
  animation: false,
  grid: [
    Object.assign({ left: 107, top: 10, width: 858, height: 677 }, gridBase),
    Object.assign({ left: 1171, top: 10, width: 859, height: 677 }, gridBase),
    Object.assign({ left: 107, top: 934, width: 858, height: 679 }, gridBase),
    Object.assign({ left: 1171, top: 934, width: 859, height: 679 }, gridBase)
  ],
  xAxis: [
    xAxis(0, -0.56, 41.56, '{a|\u03BD}{b|0}', nuRich(), 40),
    xAxis(1, 0.28, 19.72, 'Penalty Parameter for Glasso', null, 50),
    xAxis(2, -0.56, 41.56, '{a|\u03BD}{b|B}', nuRich(), 40),
    xAxis(3, 0.24, 20.76, 'Penalty Parameter for Lasso', null, 50)
  ],
  yAxis: [
    yAxis(0, -0.57, 1.32, yTicksTop, 'Precision Estimate'),
    yAxis(1, -0.57, 1.32, yTicksTop, 'Precision Estimate'),
    yAxis(2, -1.188, 1.188, yTicksBottom, 'Coefficient Estimate'),
    yAxis(3, -1.08, 1.08, yTicksBottom, 'Coefficient Estimate')
  ],
  series: series
};
const chart = echarts.init(document.getElementById('c'), null, { renderer: 'canvas' });
chart.setOption(option);
</script></body></html>
